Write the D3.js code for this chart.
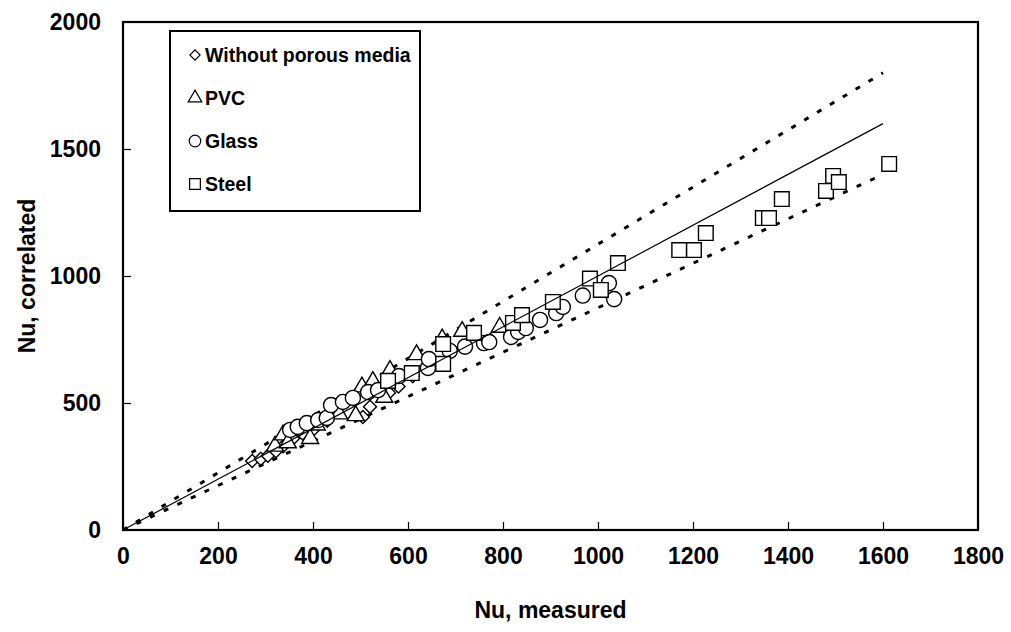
<!DOCTYPE html>
<html>
<head>
<meta charset="utf-8">
<script src="https://cdn.jsdelivr.net/npm/d3@7"></script>
<style>
  html, body { margin: 0; padding: 0; background: #fff; }
  svg { display: block; font-family: "Liberation Sans", Arial, sans-serif; }
</style>
</head>
<body>
<svg id="chart" width="1011" height="632"></svg>
<script>
// Measured vs. correlated Nusselt number, one list per packing type
const withoutPorous = [[272,272],[290,280],[305,292],[322,310],[337,330],[358,360],[378,380],[400,394],[430,430],[505,445],[520,485],[560,540],[580,565],[610,605]];
const pvc = [[320,330],[337,374],[347,343],[394,360],[408,413],[455,457],[490,450],[503,563],[526,585],[550,522],[562,628],[618,690],[672,752],[714,782],[793,798]];
const glass = [[352,394],[368,406],[387,421],[411,433],[429,441],[438,492],[463,504],[484,520],[516,543],[537,551],[581,606],[642,638],[644,673],[688,705],[720,722],[760,736],[771,740],[817,760],[832,780],[848,795],[878,827],[912,854],[926,878],[968,923],[1023,972],[1034,909]];
const steel = [[558,587],[608,618],[674,654],[674,732],[739,776],[821,815],[840,846],[905,898],[983,990],[1006,945],[1042,1051],[1171,1102],[1202,1102],[1227,1169],[1347,1228],[1360,1228],[1387,1303],[1480,1335],[1495,1394],[1507,1370],[1613,1441]];

const seriesNames = ["Without porous media", "PVC", "Glass", "Steel"];
const seriesData = [withoutPorous, pvc, glass, steel];

const xTicks = [0, 200, 400, 600, 800, 1000, 1200, 1400, 1600, 1800];
const yTicks = [0, 500, 1000, 1500, 2000];

// Reference lines: perfect agreement and the ±12.5 % band
const lineEnd = 1600;
const bandFactors = [1.125, 0.875];

const svg = d3.select("#chart");
const plotL = 123, plotR = 978, plotT = 22, plotB = 530;
const FONT = "Liberation Sans, Arial, sans-serif";

const x = d3.scaleLinear().domain([0, 1800]).range([plotL, plotR]);
const y = d3.scaleLinear().domain([0, 2000]).range([plotB, plotT]);

// Marker shapes: the diamond is a square turned by 45 degrees
const shapes = [
  { type: d3.symbolSquare, rot: 45 },
  { type: d3.symbolTriangle, rot: 0 },
  { type: d3.symbolCircle, rot: 0 },
  { type: d3.symbolSquare, rot: 0 }
];

// Frame
svg.append("rect")
  .attr("x", plotL).attr("y", plotT)
  .attr("width", plotR - plotL).attr("height", plotB - plotT)
  .attr("fill", "none").attr("stroke", "#000").attr("stroke-width", 2.2);

// Axes with inward ticks
const xAxis = d3.axisBottom(x).tickValues(xTicks).tickSize(-8).tickPadding(18).tickFormat(d3.format("d"));
const gx = svg.append("g").attr("transform", `translate(0,${plotB})`).call(xAxis);
gx.select(".domain").remove();
gx.selectAll(".tick line").attr("stroke", "#000").attr("stroke-width", 1.2);
gx.selectAll(".tick text")
  .attr("font-size", 23).attr("font-weight", "bold").attr("fill", "#000")
  .attr("font-family", FONT);

const yAxis = d3.axisLeft(y).tickValues(yTicks).tickSize(-8).tickPadding(22).tickFormat(d3.format("d"));
const gy = svg.append("g").attr("transform", `translate(${plotL},0)`).call(yAxis);
gy.select(".domain").remove();
gy.selectAll(".tick line").attr("stroke", "#000").attr("stroke-width", 1.2);
gy.selectAll(".tick text")
  .attr("font-size", 23).attr("font-weight", "bold").attr("fill", "#000")
  .attr("font-family", FONT);
gy.selectAll(".tick").filter(d => d === 0 || d === 2000).select("line").remove();

// Axis titles
svg.append("text")
  .attr("x", (plotL + plotR) / 2).attr("y", 618)
  .attr("text-anchor", "middle")
  .attr("font-size", 23).attr("font-weight", "bold")
  .text("Nu, measured");

svg.append("text")
  .attr("transform", `translate(35,${(plotT + plotB) / 2}) rotate(-90)`)
  .attr("text-anchor", "middle")
  .attr("font-size", 23).attr("font-weight", "bold")
  .text("Nu, correlated");

const line = d3.line().x(d => x(d[0])).y(d => y(d[1]));

// Band lines (dashed)
bandFactors.forEach(f => {
  svg.append("path")
    .datum([[0, 0], [lineEnd, lineEnd * f]])
    .attr("d", line)
    .attr("fill", "none").attr("stroke", "#000")
    .attr("stroke-width", 3).attr("stroke-dasharray", "5,10");
});

// Markers
const sizes = [85, 125, 180, 215];
seriesData.forEach((data, i) => {
  const sym = d3.symbol().type(shapes[i].type).size(sizes[i]);
  svg.append("g").selectAll("path")
    .data(data)
    .join("path")
    .attr("transform", d => `translate(${x(d[0])},${y(d[1])}) rotate(${shapes[i].rot})`)
    .attr("d", sym)
    .attr("fill", "#fff").attr("stroke", "#000").attr("stroke-width", 1.4);
});

// Perfect agreement line
svg.append("path")
  .datum([[0, 0], [lineEnd, lineEnd]])
  .attr("d", line)
  .attr("fill", "none").attr("stroke", "#000").attr("stroke-width", 1.2);

// Legend
const lg = svg.append("g");
lg.append("rect")
  .attr("x", 170).attr("y", 31).attr("width", 250).attr("height", 180)
  .attr("fill", "#fff").attr("stroke", "#000").attr("stroke-width", 2);
const legendSizes = [52, 80, 105, 115];
seriesNames.forEach((name, i) => {
  const cy = 55 + i * 43;
  lg.append("path")
    .attr("transform", `translate(195,${cy}) rotate(${shapes[i].rot})`)
    .attr("d", d3.symbol().type(shapes[i].type).size(legendSizes[i]))
    .attr("fill", "#fff").attr("stroke", "#000").attr("stroke-width", 1.2);
  lg.append("text")
    .attr("x", 205).attr("y", cy + 7)
    .attr("font-size", 19.5).attr("font-weight", "bold")
    .text(name);
});
</script>
</body>
</html>
